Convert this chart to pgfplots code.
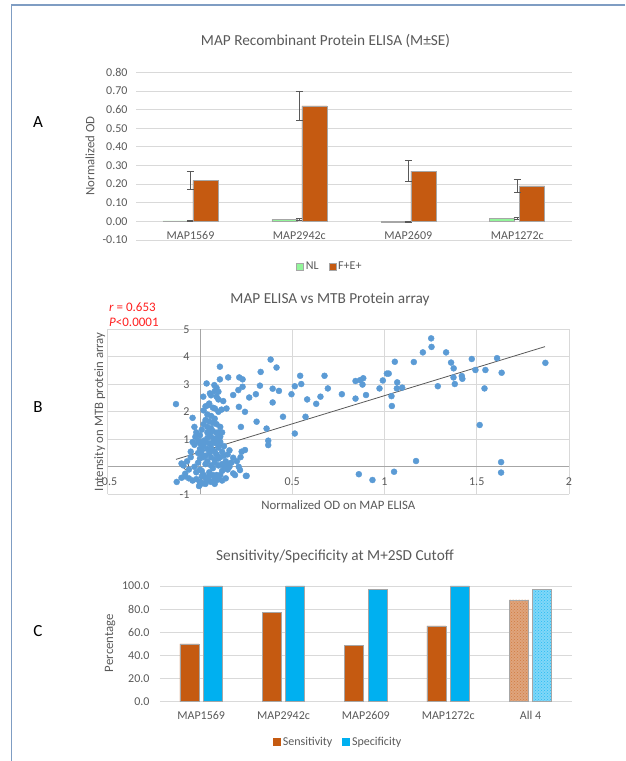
\documentclass[border=0pt]{standalone}
\usepackage{pgfplots}
\pgfplotsset{compat=1.18}
\usepackage{fontspec}
\setmainfont{Carlito}
\usetikzlibrary{patterns}
\definecolor{txt}{HTML}{595959}
\definecolor{gridc}{HTML}{D9D9D9}
\definecolor{axisc}{HTML}{A6A6A6}
\definecolor{orng}{HTML}{C55A11}
\definecolor{skyb}{HTML}{00B0F0}
\definecolor{nlgreen}{HTML}{92F59A}
\definecolor{dotb}{HTML}{5B9BD5}
\definecolor{framec}{HTML}{7F9DC3}
\definecolor{barline}{HTML}{A6A6A6}
\definecolor{rtxt}{HTML}{FF2020}
\newcommand{\labfont}{\fontsize{12.8}{12.8}\selectfont}
\pgfplotsset{
  common/.style={
    scale only axis,
    axis line style={draw=none},
    major tick length=0pt,
    tick label style={font=\fontsize{12}{12}\selectfont, text=txt},
    title style={font=\fontsize{15.3}{15.3}\selectfont, text=txt},
    /pgf/number format/assume math mode=true,
    grid style={draw=gridc, line width=0.8pt},
    legend style={draw=none, fill=none, legend columns=2, font=\fontsize{12}{12}\selectfont, text=txt,
      /tikz/every even column/.append style={column sep=8pt}},
  },
  sq/.style={legend image code/.code={\draw[##1] (0pt,-3.5pt) rectangle (7pt,3.5pt);}},
}
\begin{document}
\begin{tikzpicture}[x=1pt,y=1pt]
\path[use as bounding box] (0,0) rectangle (625,761);
\draw[framec, line width=1.5pt] (625,756) -- (11.5,756) -- (11.5,0);
\node[font=\fontsize{17}{17}\selectfont] at (38,639) {A};
\node[font=\fontsize{17}{17}\selectfont] at (38,354) {B};
\node[font=\fontsize{17}{17}\selectfont] at (38,130) {C};

% ---------------- Panel A
\begin{axis}[common,
  at={(136pt,521pt)}, anchor=south west,
  width=435.7pt, height=167.7pt,
  xmin=-0.5, xmax=3.5, ymin=-0.1, ymax=0.8,
  ymajorgrids,
  ytick={-0.1,0,0.1,0.2,0.3,0.4,0.5,0.6,0.7,0.8},
  yticklabels={-0.10,0.00,0.10,0.20,0.30,0.40,0.50,0.60,0.70,0.80},
  xtick={0,1,2,3},
  xticklabels={MAP1569,MAP2942c,MAP2609,MAP1272c},
  xticklabel style={yshift=12pt},
  yticklabel style={xshift=-5pt},
  title={MAP Recombinant Protein ELISA (M±SE)},
  title style={at={(axis description cs:0.435,1.153)}, anchor=center},
  ylabel={Normalized OD},
  every axis y label/.style={at={(axis description cs:-0.1056,0.501)}, rotate=90, anchor=center, font=\labfont, text=txt},
  legend style={at={(0.445,-0.158)}, anchor=center},
]
\addplot[ybar, bar width=25pt, bar shift=-15pt, fill=nlgreen, draw=barline, line width=0.6pt, sq,
  error bars/.cd, y dir=both, y explicit,
  error bar style={txt, line width=0.8pt},
  error mark options={rotate=90, mark size=3.5pt, txt, line width=0.8pt}]
  coordinates {(0,0.002) +- (0,0.002) (1,0.010) +- (0,0.004) (2,-0.004) +- (0,0.004) (3,0.015) +- (0,0.004)};
\addlegendentry{NL}
\addplot[ybar, bar width=25pt, bar shift=15pt, fill=orng, draw=barline, line width=0.6pt, sq,
  error bars/.cd, y dir=both, y explicit,
  error bar style={txt, line width=0.8pt},
  error mark options={rotate=90, mark size=3.5pt, txt, line width=0.8pt}]
  coordinates {(0,0.22) +- (0,0.047) (1,0.62) +- (0,0.080) (2,0.27) +- (0,0.057) (3,0.19) +- (0,0.033)};
\addlegendentry{F+E+}
\end{axis}

% ---------------- Panel B
\begin{axis}[common,
  at={(107.7pt,266.7pt)}, anchor=south west,
  width=461.3pt, height=165pt,
  xmin=-0.5, xmax=2, ymin=-1, ymax=5,
  axis lines=middle,
  axis line style={draw=axisc, line width=0.8pt, -},
  hide obscured x ticks=false, hide obscured y ticks=false,
  grid=major,
  xtick={-0.5,0,0.5,1,1.5,2},
  xticklabels={-0.5,0,0.5,1,1.5,2},
  ytick={-1,0,1,2,3,4,5},
  yticklabels={-1,0,1,2,3,4,5},
  xticklabel style={yshift=-7.5pt},
  yticklabel style={xshift=-7pt},
  title={MAP ELISA vs MTB Protein array},
  title style={at={(axis description cs:0.482,1.147)}, anchor=center},
  xlabel={Normalized OD on MAP ELISA},
  ylabel={Intensity on MTB protein array},
  every axis x label/.style={at={(axis description cs:0.5,-0.065)}, anchor=center, font=\labfont, text=txt},
  every axis y label/.style={at={(axis description cs:-0.017,0.5)}, rotate=90, anchor=center, font=\labfont, text=txt},
]
\addplot[only marks, mark=*, mark size=3pt, mark options={fill=dotb, draw=dotb}] coordinates {
(1.253,4.67) (1.255,4.36) (1.208,4.16) (1.334,4.16) (1.159,3.81) (1.056,3.82) (1.361,3.79)
(1.375,3.58) (1.473,3.92) (1.61,3.95) (1.872,3.78) (1.493,3.52) (1.547,3.52) (1.635,3.42)
(1.374,3.25) (1.419,3.30) (1.422,3.20) (1.381,3.01) (1.289,2.93) (1.542,2.85) (1.516,1.52)
(1.171,0.21) (1.632,0.17) (1.632,-0.21) (1.052,-0.18) (0.861,-0.27) (0.935,-0.48)
(1.013,3.39) (1.023,3.39) (0.991,3.14) (0.973,2.85) (1.069,3.07) (1.067,2.85) (1.096,2.88)
(1.038,2.57) (1.04,2.21) (0.843,3.12) (0.868,3.15) (0.885,3.22) (0.881,2.99) (0.9,2.61)
(0.843,2.48) (0.769,2.64) (0.693,2.85) (0.675,3.31) (0.653,2.55) (0.63,2.29) (0.581,2.45)
(0.572,1.82) (0.549,3.01) (0.543,3.31)
(-0.13,2.28) (-0.126,-0.55) (-0.10,0.12) (-0.04,1.78) (-0.03,1.45) (-0.025,1.09) (-0.005,-0.70)
(0.036,3.03) (0.018,2.55) (0.108,3.64) (0.108,3.18) (0.153,3.25) (0.078,2.97) (0.09,2.87)
(0.1,2.73) (0.054,2.67) (0.045,2.24) (0.081,2.12) (0.117,2.08) (0.144,2.12) (0.126,2.39)
(0.18,2.61) (0.208,2.79) (0.213,3.25) (0.231,3.18) (0.231,2.91) (0.211,2.18) (0.244,2.0)
(0.222,1.45) (0.267,2.52) (0.303,2.64) (0.325,2.95) (0.329,3.45) (0.383,3.9) (0.415,3.61)
(0.394,2.84) (0.428,2.76) (0.394,2.34) (0.361,1.39) (0.37,0.95) (0.37,0.79) (0.45,1.82)
(0.496,2.64) (0.514,2.93) (0.514,1.21) (0.307,1.64) (0.244,0.61) (0.226,0.55) (0.249,-0.33)
(0.18,0.33) (0.144,0.12) (0.13,0.0) (0.108,0.91) (0.09,1.24) (0.09,-0.48) (0.18,-0.24)
(0.16,0.0) (0.12,0.1) (0.217,-0.12) (0.21,0.0) (0.253,-0.33)
(-0.08,-0.35) (-0.06,-0.42) (-0.04,-0.5) (-0.02,-0.45) (0.0,-0.55) (0.02,-0.6) (0.04,-0.5)
(0.06,-0.55) (0.08,-0.62) (0.1,-0.45) (0.12,-0.5) (0.14,-0.42) (-0.09,0.05) (-0.07,0.2)
(-0.05,0.35) (-0.03,0.0) (-0.02,-0.2) (-0.01,0.15) (0.0,0.3) (0.0,-0.1) (0.01,0.45)
(0.01,0.6) (0.02,0.75) (0.02,-0.3) (0.03,0.1) (0.03,0.9) (0.04,1.05) (0.04,0.2) (0.05,-0.2)
(0.05,0.5) (0.05,1.2) (0.06,0.35) (0.06,0.8) (0.06,1.4) (0.07,-0.05) (0.07,0.6) (0.07,1.6)
(0.08,0.25) (0.08,1.0) (0.08,1.75) (0.09,0.45) (0.09,-0.3) (0.1,0.7) (0.1,0.05) (0.11,0.35)
(0.11,1.1) (0.12,-0.15) (0.12,0.55) (-0.05,0.55) (-0.03,0.8) (-0.02,1.25) (-0.01,0.95)
(0.0,1.15) (0.0,0.65) (0.01,1.35) (0.01,-0.35) (0.02,1.55) (0.02,0.35) (0.03,1.7) (0.03,-0.4)
(0.04,0.65) (0.04,1.45) (0.05,0.85) (0.05,1.65) (0.06,0.05) (0.06,1.1) (0.07,0.9) (0.07,1.3)
(0.08,0.55) (0.08,-0.45) (0.09,0.85) (0.09,1.55) (0.1,1.25) (0.1,0.3) (0.11,0.9) (0.11,-0.3)
(0.13,0.4) (0.13,0.75) (0.14,0.2) (0.15,-0.1) (0.16,0.6) (0.17,0.15) (0.15,0.45) (0.19,-0.3)
(0.2,0.2) (0.22,0.35) (0.12,1.25) (0.11,1.45) (0.06,1.85) (0.04,1.9) (0.02,2.05) (0.03,2.2)
(0.05,2.3) (0.07,2.15) (0.06,2.6) (0.08,2.75) (0.09,2.55) (0.1,2.45) (0.1,2.0) (-0.04,0.9)
(-0.06,-0.1) (-0.08,-0.25) (-0.1,-0.4) (0.0,-0.65) (0.03,-0.62) (0.01,-0.15) (0.05,-0.35)
(0.02,0.95) (0.04,1.25) (0.0,0.85) (-0.01,0.5) (0.03,0.4) (0.06,0.65) (0.08,0.15) (0.09,1.05)
(0.07,-0.3)
};
\addplot[txt, line width=0.8pt] coordinates {(-0.13,0.27) (1.87,4.37)};
\end{axis}
\node[anchor=west, text=rtxt, font=\fontsize{13}{13}\selectfont, inner sep=0pt] at (109,454.3) {\textit{r} = 0.653};
\node[anchor=west, text=rtxt, font=\fontsize{13}{13}\selectfont, inner sep=0pt] at (109,438.3) {\textit{P}<0.0001};

% ---------------- Panel C
\begin{axis}[common,
  at={(160pt,59.3pt)}, anchor=south west,
  width=411.7pt, height=115.7pt,
  xmin=-0.5, xmax=4.5, ymin=0, ymax=100,
  ymajorgrids,
  ytick={0,20,40,60,80,100},
  yticklabels={0.0,20.0,40.0,60.0,80.0,100.0},
  xtick={0,1,2,3,4},
  xticklabels={MAP1569,MAP2942c,MAP2609,MAP1272c,All 4},
  xticklabel style={yshift=-6pt},
  yticklabel style={xshift=-7pt},
  title={Sensitivity/Specificity at M+2SD Cutoff},
  title style={at={(axis description cs:0.425,1.201)}, anchor=center},
  ylabel={Percentage},
  every axis y label/.style={at={(axis description cs:-0.1214,0.507)}, rotate=90, anchor=center, font=\labfont, text=txt},
  legend style={at={(0.433,-0.346)}, anchor=center},
]
\addplot[ybar, bar width=19pt, bar shift=-11.7pt, fill=orng, draw=barline, line width=0.6pt,
  legend image code/.code={\fill[orng] (0pt,-3.5pt) rectangle (7pt,3.5pt);}]
  coordinates {(0,50) (1,77) (2,48.5) (3,65.5)};
\addlegendentry{Sensitivity}
\addplot[ybar, bar width=19pt, bar shift=11.7pt, fill=skyb, draw=barline, line width=0.6pt,
  legend image code/.code={\fill[skyb] (0pt,-3.5pt) rectangle (7pt,3.5pt);}]
  coordinates {(0,100) (1,100) (2,97) (3,100)};
\addlegendentry{Specificity}
\addplot[ybar, bar width=19pt, bar shift=-11.7pt, fill=orng!55!white, draw=barline, line width=0.6pt,
  postaction={pattern=crosshatch dots, pattern color=orng!80!white}, forget plot]
  coordinates {(4,88)};
\addplot[ybar, bar width=19pt, bar shift=11.7pt, fill=skyb!50!white, draw=barline, line width=0.6pt,
  postaction={pattern=crosshatch dots, pattern color=skyb!85!white}, forget plot]
  coordinates {(4,97)};
\end{axis}
\end{tikzpicture}
\end{document}
